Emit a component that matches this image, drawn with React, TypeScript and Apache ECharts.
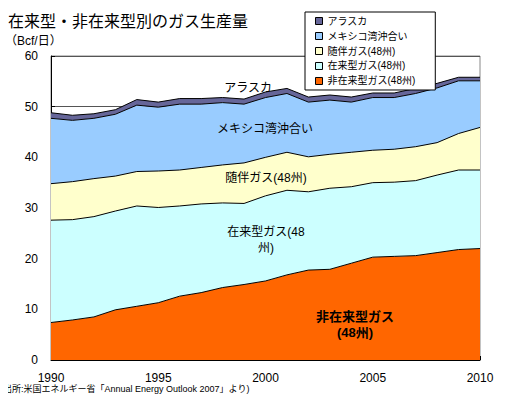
import React, { useEffect, useRef } from "react";
import * as echarts from "echarts";

const years = [
  "1990","1991","1992","1993","1994","1995","1996","1997","1998","1999","2000",
  "2001","2002","2003","2004","2005","2006","2007","2008","2009","2010",
];
const unconventional = [7.4, 7.9, 8.5, 9.9, 10.6, 11.3, 12.6, 13.3, 14.3, 14.9, 15.6, 16.8, 17.75, 17.9, 19.1, 20.3, 20.45, 20.6, 21.2, 21.8, 22.0];
const conventional = [20.2, 19.8, 19.8, 19.5, 19.8, 18.8, 17.8, 17.5, 16.7, 16.0, 16.8, 16.7, 15.45, 16.0, 15.1, 14.7, 14.65, 14.8, 15.3, 15.7, 15.5];
const associated = [7.2, 7.5, 7.5, 6.9, 6.8, 7.2, 7.1, 7.2, 7.5, 8.0, 7.6, 7.5, 6.9, 6.7, 6.8, 6.4, 6.5, 6.7, 6.4, 7.2, 8.4];
const gulfOfMexico = [12.9, 12.1, 11.9, 12.2, 13.1, 12.6, 13.0, 12.5, 12.3, 11.6, 11.8, 11.6, 10.8, 10.7, 9.9, 10.4, 10.2, 10.5, 10.8, 10.4, 9.2];
const alaska = [1.1, 1.0, 0.9, 0.9, 1.1, 1.0, 1.1, 1.1, 1.0, 1.0, 1.1, 1.0, 1.0, 1.0, 1.0, 0.9, 0.9, 1.0, 0.9, 0.7, 0.7];

const seriesNames = ["非在来型ガス(48州)", "在来型ガス(48州)", "随伴ガス(48州)", "メキシコ湾沖合い", "アラスカ"];
const seriesColors = ["#FF6600", "#CCFFFF", "#FFFFCC", "#99CCFF", "#666699"];
const seriesData = [unconventional, conventional, associated, gulfOfMexico, alaska];

const FONT = "'Liberation Sans', 'Noto Sans CJK JP', sans-serif";

export default function App() {
  const ref = useRef<HTMLDivElement>(null);
  useEffect(() => {
    if (!ref.current) return;
    const chart = echarts.init(ref.current, null, { renderer: "svg" });
    const series = seriesData.map((d, i) => ({
      name: seriesNames[i],
      type: "line",
      stack: "total",
      data: d,
      symbol: "none",
      lineStyle: { color: "#000", width: 1 },
      itemStyle: { color: seriesColors[i] },
      areaStyle: { color: seriesColors[i], opacity: 1 },
      z: 2,
    }));
    const legendData = seriesNames
      .map((n, i) => ({
        name: n,
        icon: "rect",
        itemStyle: { color: seriesColors[i], borderColor: "#000", borderWidth: 1 },
      }))
      .reverse();
    const txt = (x: number, y: number, t: string, size = 12, weight = "normal", align = "center") => ({
      type: "text",
      x,
      y,
      z: 100,
      style: {
        text: t,
        fontSize: size,
        fontWeight: weight,
        fontFamily: FONT,
        fill: "#000",
        align,
        verticalAlign: "middle",
        lineHeight: 16,
      },
    });
    chart.setOption({
      animation: false,
      textStyle: { fontFamily: FONT },
      grid: {
        left: 51,
        right: 27,
        top: 56,
        bottom: 47,
        show: true,
        borderColor: "#888",
        borderWidth: 1,
        backgroundColor: "transparent",
      },
      legend: {
        orient: "vertical",
        left: 305,
        top: 12,
        width: 120,
        backgroundColor: "#fff",
        borderColor: "#000",
        borderWidth: 1,
        padding: [4, 20, 4, 10],
        itemWidth: 7,
        itemHeight: 7,
        itemGap: 5,
        textStyle: { fontSize: 10, color: "#000", fontFamily: FONT },
        data: legendData,
        z: 50,
      },
      xAxis: {
        type: "category",
        data: years,
        boundaryGap: false,
        axisLine: { lineStyle: { color: "#000", width: 1 } },
        axisTick: { inside: true, interval: 0, length: 4, lineStyle: { color: "#000" } },
        axisLabel: {
          interval: 4,
          fontSize: 12,
          color: "#000",
          margin: 12,
          fontFamily: FONT,
        },
        splitLine: { show: false },
      },
      yAxis: {
        type: "value",
        min: 0,
        max: 60,
        interval: 10,
        axisLine: { show: true, lineStyle: { color: "#000", width: 1 } },
        axisTick: { show: true, inside: true, length: 4, lineStyle: { color: "#000" } },
        axisLabel: { fontSize: 12, color: "#000", margin: 13, fontFamily: FONT },
        splitLine: { show: true, lineStyle: { color: "#555", width: 1 } },
      },
      series,
      graphic: [
        { type: "line", shape: { x1: 0, y1: 1.5, x2: 507, y2: 1.5 }, style: { stroke: "#000", lineWidth: 2 } },
        { type: "line", shape: { x1: 0, y1: 5, x2: 507, y2: 5 }, style: { stroke: "#000", lineWidth: 1 } },
        txt(8, 21, "在来型・非在来型別のガス生産量", 16, "normal", "left"),
        txt(5, 41, "（Bcf/日）", 12, "normal", "left"),
        txt(0, 389, "(出所:米国エネルギー省「Annual Energy Outlook 2007」より)", 9, "normal", "left"),
        txt(248, 88, "アラスカ", 12),
        txt(265, 129, "メキシコ湾沖合い", 12),
        txt(266, 178, "随伴ガス(48州)", 12),
        txt(266, 232, "在来型ガス(48", 12),
        txt(266, 248, "州)", 12),
        txt(355, 316, "非在来型ガス", 13, "bold"),
        txt(355, 332, "(48州)", 13, "bold"),
      ],
    });
    return () => chart.dispose();
  }, []);
  return <div ref={ref} style={{ width: 507, height: 407, margin: -8 }} />;
}
